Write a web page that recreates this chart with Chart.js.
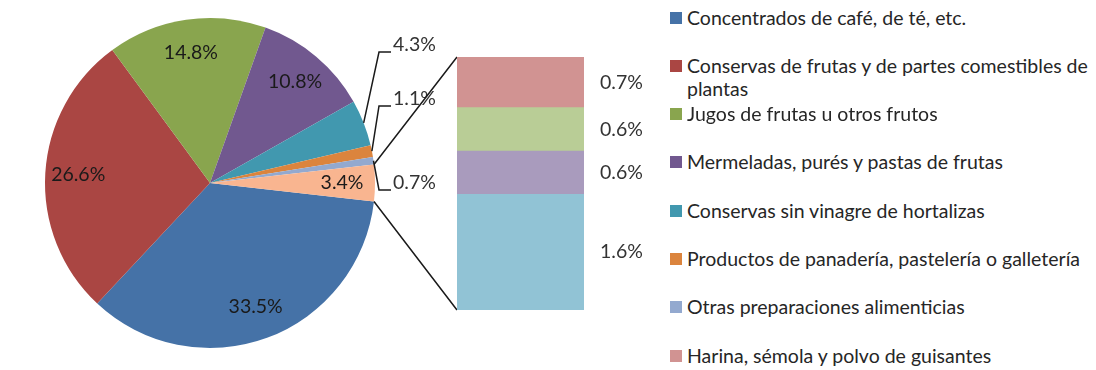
<!DOCTYPE html>
<html>
<head>
<meta charset="utf-8">
<script src="https://cdn.jsdelivr.net/npm/chart.js@4.4.1/dist/chart.umd.min.js"></script>
<style>
  body { margin: 0; background: #fff; }
  #wrap { position: relative; width: 1096px; height: 370px; overflow: hidden; font-family: Lato, "Open Sans", sans-serif; }
  #pieCanvas { position: absolute; left: 0; top: 0; }
  #barCanvas { position: absolute; left: 457px; top: 57px; }
  #legend { position: absolute; left: 670px; top: 0; }
  .item { position: absolute; left: 0; width: 426px; }
  .box { position: absolute; left: 0; top: 6px; width: 12px; height: 12px; }
  .txt { position: absolute; left: 17px; top: 0; width: 409px; font-size: 19.5px; line-height: 23px; color: #262626; white-space: normal; }
</style>
</head>
<body>
<div id="wrap">
  <canvas id="pieCanvas" width="650" height="370"></canvas>
  <canvas id="barCanvas" width="193" height="253"></canvas>
  <div id="legend"></div>
</div>
<script>
// legend categories (order as in the legend)
const categories = [
  'Concentrados de café, de té, etc.',
  'Conservas de frutas y de partes comestibles de plantas',
  'Jugos de frutas u otros frutos',
  'Mermeladas, purés y pastas de frutas',
  'Conservas sin vinagre de hortalizas',
  'Productos de panadería, pastelería o galletería',
  'Otras preparaciones alimenticias',
  'Harina, sémola y polvo de guisantes'
]
const categoryColors = ['#4572a7', '#aa4643', '#89a54e', '#71588f', '#4198af', '#db843d', '#93a9cf', '#d19392']

// main pie (last slice = grouped "otros" shown in the bar)
const pieLabels = categories.slice(0, 7).concat(['Otros'])
const pieValues = [33.5, 26.6, 14.8, 10.8, 4.3, 1.1, 0.7, 3.4]
const pieColors = categoryColors.slice(0, 7).concat(['#f9b590'])

// stacked bar, bottom to top
const barLabels = ['Otros 1', 'Otros 2', 'Otros 3', 'Harina, sémola y polvo de guisantes']
const barValues = [1.6, 0.6, 0.6, 0.7]
const barColors = ['#91c3d5', '#a99bbd', '#b9cd96', '#d19392']

const BAR_LEFT = 457
const BAR_TOP = 57
const LABEL_FONT = '19.5px Lato, "Open Sans", sans-serif'
const outsideSlices = [4, 5, 6]
const outsideDy = [-138, -84, 0]

// legend
const legendEl = document.getElementById('legend')
categories.forEach((name, i) => {
  const item = document.createElement('div')
  item.className = 'item'
  item.style.top = (5.5 + 48.3 * i) + 'px'
  item.innerHTML = '<div class="box" style="background:' + categoryColors[i] + '"></div><div class="txt">' + name + '</div>'
  legendEl.appendChild(item)
})

const barLabelPlugin = {
  id: 'barLabels',
  afterDatasetsDraw(chart) {
    const ctx = chart.ctx
    ctx.save()
    ctx.font = LABEL_FONT
    ctx.fillStyle = '#333'
    ctx.textAlign = 'left'
    ctx.textBaseline = 'middle'
    chart.data.datasets.forEach((ds, i) => {
      const bar = chart.getDatasetMeta(i).data[0]
      const midY = (bar.y + bar.base) / 2
      ctx.fillText(ds.data[0].toFixed(1) + '%', chart.chartArea.right + 16, midY)
    })
    ctx.restore()
  }
}

const barChart = new Chart(document.getElementById('barCanvas'), {
  type: 'bar',
  data: {
    labels: [''],
    datasets: barValues.map((v, i) => ({
      label: barLabels[i],
      data: [v],
      backgroundColor: barColors[i],
      borderWidth: 0,
      barPercentage: 1,
      categoryPercentage: 1
    }))
  },
  options: {
    responsive: false,
    animation: false,
    layout: { padding: { left: 0, top: 0, right: 66, bottom: 0 } },
    plugins: { legend: { display: false }, tooltip: { enabled: false } },
    scales: {
      x: { stacked: true, display: false },
      y: { stacked: true, display: false, min: 0, max: barValues.reduce((a, b) => a + b, 0) }
    }
  },
  plugins: [barLabelPlugin]
})

const pieLabelPlugin = {
  id: 'pieLabels',
  afterDatasetsDraw(chart) {
    const ctx = chart.ctx
    const arcs = chart.getDatasetMeta(0).data
    const values = chart.data.datasets[0].data
    ctx.save()
    ctx.font = LABEL_FONT
    ctx.textBaseline = 'middle'
    ctx.strokeStyle = '#1a1a1a'
    ctx.lineWidth = 1.5
    arcs.forEach((arc, i) => {
      const { x, y, startAngle, endAngle, outerRadius } = arc.getProps(['x', 'y', 'startAngle', 'endAngle', 'outerRadius'], true)
      const mid = (startAngle + endAngle) / 2
      const text = values[i].toFixed(1) + '%'
      const k = outsideSlices.indexOf(i)
      if (k < 0) {
        ctx.fillStyle = '#1a1a1a'
        ctx.textAlign = 'center'
        ctx.fillText(text, x + Math.cos(mid) * outerRadius * 0.8, y + Math.sin(mid) * outerRadius * 0.8)
      } else {
        const ex = x + Math.cos(mid) * outerRadius
        const ey = y + Math.sin(mid) * outerRadius
        const tx = x + outerRadius + 18
        const ty = y + outsideDy[k]
        ctx.beginPath()
        ctx.moveTo(ex, ey)
        ctx.lineTo(tx - 14, ty + 7)
        ctx.lineTo(tx - 2, ty + 7)
        ctx.stroke()
        ctx.fillStyle = '#333'
        ctx.textAlign = 'left'
        ctx.fillText(text, tx, ty)
      }
    })
    // connectors from the grouped slice to the bar
    const other = arcs[arcs.length - 1].getProps(['x', 'y', 'startAngle', 'endAngle', 'outerRadius'], true)
    const area = barChart.chartArea
    ctx.beginPath()
    ctx.moveTo(other.x + Math.cos(other.startAngle) * other.outerRadius, other.y + Math.sin(other.startAngle) * other.outerRadius)
    ctx.lineTo(BAR_LEFT + area.left, BAR_TOP + area.top)
    ctx.moveTo(other.x + Math.cos(other.endAngle) * other.outerRadius, other.y + Math.sin(other.endAngle) * other.outerRadius)
    ctx.lineTo(BAR_LEFT + area.left, BAR_TOP + area.bottom)
    ctx.stroke()
    ctx.restore()
  }
}

const pieTotal = pieValues.reduce((a, b) => a + b, 0)
const otherSweep = pieValues[pieValues.length - 1] / pieTotal * 360

new Chart(document.getElementById('pieCanvas'), {
  type: 'pie',
  data: {
    labels: pieLabels,
    datasets: [{
      data: pieValues,
      backgroundColor: pieColors,
      borderWidth: 0,
      hoverOffset: 0
    }]
  },
  options: {
    responsive: false,
    animation: false,
    // grouped slice centred on the right side, facing the bar
    rotation: 90 + otherSweep / 2,
    layout: { padding: { left: 45, top: 18, right: 275, bottom: 22 } },
    plugins: { legend: { display: false }, tooltip: { enabled: false } }
  },
  plugins: [pieLabelPlugin]
})
</script>
</body>
</html>
